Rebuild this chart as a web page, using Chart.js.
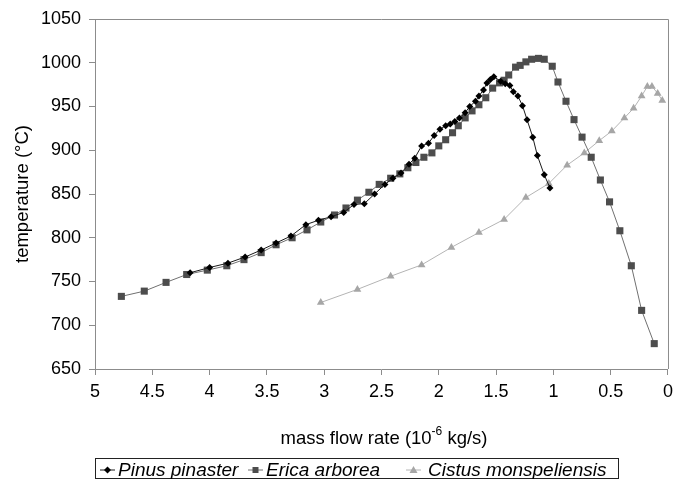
<!DOCTYPE html>
<html>
<head>
<meta charset="utf-8">
<script src="https://cdn.jsdelivr.net/npm/chart.js@4.4.1/dist/chart.umd.min.js"></script>
<style>
  body { margin: 0; background: #fff; }
</style>
</head>
<body>
<canvas id="myChart" width="679" height="479"></canvas>
<script>
// values
const seriesNames = ['Pinus pinaster', 'Erica arborea', 'Cistus monspeliensis'];

const pinusX = [4.17, 4.00, 3.84, 3.69, 3.55, 3.42, 3.29, 3.16, 3.05, 2.94, 2.83, 2.74, 2.65, 2.56, 2.47, 2.40, 2.33,
    2.26, 2.21, 2.15, 2.09, 2.04, 1.99, 1.94, 1.90, 1.86, 1.82, 1.77, 1.73, 1.68, 1.65, 1.61, 1.58, 1.55, 1.52,
    1.46, 1.42, 1.38, 1.35, 1.31, 1.27, 1.23, 1.18, 1.14, 1.08, 1.03];
const pinusY = [760, 766, 771, 778, 786, 794, 802, 815, 820, 824, 829, 838, 839, 850, 861, 868, 874,
    884, 891, 905, 908, 917, 924, 928, 930, 933, 937, 943, 950, 956, 962, 969, 977, 981, 984,
    979, 976, 974, 967, 962, 951, 935, 915, 894, 872, 857];

const ericaX = [4.77, 4.57, 4.38, 4.20, 4.02, 3.85, 3.70, 3.55, 3.42, 3.28, 3.15, 3.03, 2.91, 2.81, 2.71, 2.61, 2.52,
    2.42, 2.34, 2.27, 2.20, 2.13, 2.06, 2.00, 1.94, 1.88, 1.83, 1.77, 1.71, 1.65, 1.59, 1.53, 1.47, 1.43, 1.39,
    1.33, 1.29, 1.24, 1.19, 1.13, 1.08, 1.01, 0.96, 0.89, 0.82, 0.75, 0.67, 0.59, 0.51, 0.42, 0.32, 0.23, 0.12];
const ericaY = [733, 739, 749, 758, 763, 768, 775, 783, 792, 800, 809, 818, 826, 834, 843, 852, 861,
    868, 873, 880, 886, 892, 897, 905, 912, 920, 928, 937, 945, 952, 960, 971, 977, 980, 986,
    995, 997, 1001, 1004, 1005, 1004, 996, 978, 956, 935, 915, 892, 866, 841, 808, 768, 717, 679];

const cistusX = [3.03, 2.71, 2.42, 2.15, 1.89, 1.65, 1.43, 1.24, 1.04, 0.88, 0.73, 0.60, 0.49, 0.38, 0.30, 0.23,
    0.18, 0.14, 0.09, 0.05];
const cistusY = [726, 741, 756, 769, 789, 806, 821, 846, 862, 883, 897, 911, 922, 937, 948, 962,
    973, 973, 965, 957];

const xTicks = [5, 4.5, 4, 3.5, 3, 2.5, 2, 1.5, 1, 0.5, 0];
const yTicks = [650, 700, 750, 800, 850, 900, 950, 1000, 1050];

const font = '"Liberation Sans", Arial, sans-serif';

function toPoints(xs, ys) {
    return xs.map((x, i) => ({ x: x, y: ys[i] }));
}

// frame, axis titles and the boxed legend
const extras = {
    id: 'extras',
    afterDraw(chart) {
        const ctx = chart.ctx;
        const a = chart.chartArea;
        ctx.save();
        ctx.strokeStyle = '#8c8c8c';
        ctx.lineWidth = 1;
        ctx.beginPath();
        ctx.moveTo(a.left, a.top + 0.5);
        ctx.lineTo(a.right + 0.5, a.top + 0.5);
        ctx.lineTo(a.right + 0.5, a.bottom);
        ctx.stroke();

        ctx.fillStyle = '#000';
        ctx.textBaseline = 'middle';

        // y title
        ctx.save();
        ctx.translate(23, (a.top + a.bottom) / 2);
        ctx.rotate(-Math.PI / 2);
        ctx.textAlign = 'center';
        ctx.font = '18.5px ' + font;
        ctx.fillText('temperature (°C)', 0, 0);
        ctx.restore();

        // x title with superscript
        const p1 = 'mass flow rate (10', sup = '-6', p2 = ' kg/s)';
        ctx.textAlign = 'left';
        ctx.font = '18.5px ' + font;
        const w1 = ctx.measureText(p1).width, w3 = ctx.measureText(p2).width;
        ctx.font = '12px ' + font;
        const w2 = ctx.measureText(sup).width;
        let tx = 384 - (w1 + w2 + w3) / 2;
        const ty = 439;
        ctx.font = '18.5px ' + font;
        ctx.fillText(p1, tx, ty);
        ctx.font = '12px ' + font;
        ctx.fillText(sup, tx + w1, ty - 7);
        ctx.font = '18.5px ' + font;
        ctx.fillText(p2, tx + w1 + w2, ty);

        // legend
        ctx.strokeStyle = '#222';
        ctx.strokeRect(95.5, 458.5, 523, 20);
        ctx.font = 'italic 19px ' + font;
        const items = [[100, 118], [248, 266], [406, 428]];
        chart.data.datasets.forEach((ds, i) => {
            const ly = 470;
            const [mx, txx] = items[i];
            ctx.strokeStyle = ds.borderColor;
            ctx.beginPath();
            ctx.moveTo(mx, ly);
            ctx.lineTo(mx + 15, ly);
            ctx.stroke();
            ctx.fillStyle = ds.pointBackgroundColor;
            const cx = mx + 7.5;
            ctx.beginPath();
            if (ds.pointStyle === 'rectRot') {
                ctx.moveTo(cx, ly - 3.5); ctx.lineTo(cx + 3.5, ly); ctx.lineTo(cx, ly + 3.5); ctx.lineTo(cx - 3.5, ly);
            } else if (ds.pointStyle === 'rect') {
                ctx.rect(cx - 3, ly - 3, 6, 6);
            } else {
                ctx.moveTo(cx, ly - 4); ctx.lineTo(cx + 4, ly + 3); ctx.lineTo(cx - 4, ly + 3);
            }
            ctx.closePath();
            ctx.fill();
            ctx.fillStyle = '#000';
            ctx.fillText(ds.label, txx, ly + 1);
        });
        ctx.restore();
    }
};

const ctx = document.getElementById('myChart').getContext('2d');
const myChart = new Chart(ctx, {
    type: 'line',
    data: {
        datasets: [{
            label: seriesNames[0],
            data: toPoints(pinusX, pinusY),
            borderColor: '#1a1a1a',
            backgroundColor: '#000',
            pointBackgroundColor: '#000',
            pointBorderColor: '#000',
            pointStyle: 'rectRot',
            pointRadius: 3.5,
            borderWidth: 1,
            pointBorderWidth: 0
        }, {
            label: seriesNames[1],
            data: toPoints(ericaX, ericaY),
            borderColor: '#707070',
            backgroundColor: '#4d4d4d',
            pointBackgroundColor: '#4d4d4d',
            pointBorderColor: '#4d4d4d',
            pointStyle: 'rect',
            pointRadius: 5,
            borderWidth: 1,
            pointBorderWidth: 0
        }, {
            label: seriesNames[2],
            data: toPoints(cistusX, cistusY),
            borderColor: '#b4b4b4',
            backgroundColor: '#a6a6a6',
            pointBackgroundColor: '#a6a6a6',
            pointBorderColor: '#a6a6a6',
            pointStyle: 'triangle',
            pointRadius: 4.5,
            borderWidth: 1,
            pointBorderWidth: 0
        }]
    },
    options: {
        responsive: false,
        animation: false,
        layout: { padding: { top: 19, right: 7, left: 0, bottom: 0 } },
        plugins: {
            legend: { display: false },
            tooltip: { enabled: false }
        },
        scales: {
            x: {
                type: 'linear',
                reverse: true,
                min: 0,
                max: 5,
                afterBuildTicks: axis => { axis.ticks = xTicks.map(v => ({ value: v })); },
                afterFit: axis => { axis.height = 110; },
                border: { color: '#8c8c8c' },
                grid: { drawOnChartArea: false, drawTicks: true, tickLength: 6, color: '#8c8c8c' },
                ticks: { color: '#000', font: { family: font, size: 18 }, padding: 6, maxRotation: 0,
                    callback: v => String(v) }
            },
            y: {
                min: 650,
                max: 1050,
                afterBuildTicks: axis => { axis.ticks = yTicks.map(v => ({ value: v })); },
                afterFit: axis => { axis.width = 95; },
                border: { color: '#8c8c8c' },
                grid: { drawOnChartArea: false, drawTicks: true, tickLength: 6, color: '#8c8c8c' },
                ticks: { color: '#000', font: { family: font, size: 18 }, padding: 8,
                    callback: v => String(v) }
            }
        }
    },
    plugins: [extras]
});
</script>
</body>
</html>
